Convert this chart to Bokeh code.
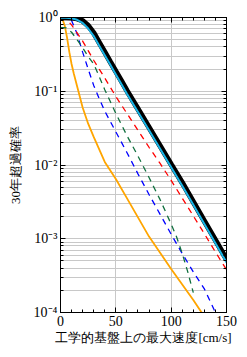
from bokeh.plotting import figure
from bokeh.models import (LogAxis, LinearAxis, Range1d, CustomJSTickFormatter,
                          LogTicker, FixedTicker)
from bokeh.embed import file_html
from bokeh.resources import INLINE

# ---- data ----
x_total = [0, 5, 10, 15, 20, 25, 30, 35, 40, 45, 50, 55, 60, 70, 80, 90, 100, 110, 120, 130, 140, 150]
p_total_black = [1.0, 0.998, 0.991, 0.966, 0.902, 0.776, 0.617, 0.457, 0.339, 0.251, 0.186, 0.138,
                 0.102, 0.0575, 0.0324, 0.0182, 0.0102, 0.00575, 0.00316, 0.00174, 0.000955, 0.000525]
p_total_cyan = [0.995, 0.99, 0.975, 0.93, 0.845, 0.71, 0.56, 0.415, 0.308, 0.228, 0.169, 0.125,
                0.0928, 0.0523, 0.0295, 0.0166, 0.0093, 0.00523, 0.00288, 0.00158, 0.00087, 0.000478]

x_red = [0, 5, 10, 15, 20, 25, 30, 40, 50, 60, 70, 80, 90, 100, 110, 120, 130, 140, 150]
p_red = [1.0, 0.955, 0.794, 0.617, 0.479, 0.355, 0.263, 0.151, 0.0851, 0.0501, 0.0295, 0.0174,
         0.0105, 0.00617, 0.00355, 0.00204, 0.00117, 0.000661, 0.00038]

x_green = [0, 3, 5, 10, 15, 20, 25, 30, 35, 40, 45, 50, 60, 70, 80, 90, 100, 105, 110, 115, 120]
p_green = [0.73, 0.73, 0.724, 0.631, 0.501, 0.389, 0.295, 0.234, 0.158, 0.105, 0.0724, 0.0501,
           0.0251, 0.0132, 0.00676, 0.00339, 0.00158, 0.00105, 0.000631, 0.000355, 0.000186]

x_blue = [0, 5, 10, 15, 20, 25, 30, 35, 40, 50, 60, 70, 80, 90, 100, 110, 120, 130, 140]
p_blue = [1.0, 0.993, 0.912, 0.603, 0.339, 0.2, 0.12, 0.0794, 0.0537, 0.0282, 0.0148, 0.00759,
          0.00398, 0.00214, 0.00115, 0.000631, 0.000355, 0.000209, 0.0001]

x_orange = [0, 2, 4, 6, 8, 10, 12, 15, 20, 25, 30, 40, 50, 60, 70, 80, 90, 100, 110, 120, 127.5]
p_orange = [1.0, 0.933, 0.759, 0.525, 0.339, 0.234, 0.174, 0.117, 0.0603, 0.0363, 0.024, 0.011,
            0.00646, 0.00355, 0.00195, 0.00107, 0.000646, 0.000389, 0.00024, 0.000148, 0.0001]

x_ticks = [0, 50, 100, 150]
x_minor = [0, 10, 20, 30, 40, 50, 60, 70, 80, 90, 100, 110, 120, 130, 140, 150]

x_label = "工学的基盤上の最大速度[cm/s]"
y_label = "30年超過確率"

FONT = "Liberation Serif"

p = figure(width=247, height=357, x_axis_type="linear", y_axis_type="log",
           x_range=Range1d(0, 150), y_range=Range1d(1e-4, 1.0),
           output_backend="svg", toolbar_location=None,
           min_border_left=60, min_border_right=21, min_border_top=17, min_border_bottom=45)
p.outline_line_color = "black"
p.outline_line_width = 1
p.background_fill_color = "white"
p.border_fill_color = "white"

# grid
p.xgrid.ticker = FixedTicker(ticks=[50, 100])
p.xgrid.grid_line_color = "#c8c8c8"
p.ygrid.grid_line_color = "#c8c8c8"
p.ygrid.minor_grid_line_color = "#c8c8c8"

sup = CustomJSTickFormatter(code="""
const m = {'-':'\u207b','0':'\u2070','1':'\u00b9','2':'\u00b2','3':'\u00b3','4':'\u2074','5':'\u2075','6':'\u2076','7':'\u2077','8':'\u2078','9':'\u2079'};
const e = Math.round(Math.log10(tick)).toString();
let s = '';
for (const c of e) s += m[c];
return '10' + s;
""")
blank = CustomJSTickFormatter(code="return '';")

def style(ax):
    ax.major_tick_in = 5
    ax.major_tick_out = 0
    ax.minor_tick_in = 3
    ax.minor_tick_out = 0
    ax.axis_line_color = "black"
    ax.major_tick_line_color = "black"
    ax.minor_tick_line_color = "black"
    ax.major_label_text_font = FONT
    ax.major_label_text_font_size = "14px"
    ax.major_label_text_color = "black"
    ax.axis_label_text_font = FONT
    ax.axis_label_text_font_size = "13px"
    ax.axis_label_text_font_style = "normal"
    ax.axis_label_text_color = "black"

xa = p.xaxis[0]
xa.ticker = FixedTicker(ticks=x_ticks, minor_ticks=x_minor)
style(xa)
xa.axis_label = x_label
xa.major_label_standoff = 3
xa.axis_label_standoff = 1

ya = p.yaxis[0]
ya.ticker = LogTicker(desired_num_ticks=5, num_minor_ticks=10)
ya.formatter = sup
style(ya)
ya.axis_label = y_label
ya.major_label_standoff = 3
ya.axis_label_standoff = 8

top = LinearAxis(ticker=FixedTicker(ticks=x_ticks, minor_ticks=x_minor), formatter=blank)
style(top)
p.add_layout(top, "above")
right = LogAxis(ticker=LogTicker(desired_num_ticks=5, num_minor_ticks=10), formatter=blank)
style(right)
p.add_layout(right, "right")

dash = "6 5"
p.line(x_orange, p_orange, line_color="#ffa500", line_width=1.8)
p.line(x_blue, p_blue, line_color="#0000ff", line_width=1.3, line_dash=dash)
p.line(x_green, p_green, line_color="#11703f", line_width=1.3, line_dash=dash)
p.line(x_red, p_red, line_color="#ff0000", line_width=1.3, line_dash=dash)
p.line(x_total, p_total_black, line_color="black", line_width=5.5)
p.line(x_total, p_total_cyan, line_color="#19b4e6", line_width=2)

open("out.html", "w").write(file_html(p, INLINE))
